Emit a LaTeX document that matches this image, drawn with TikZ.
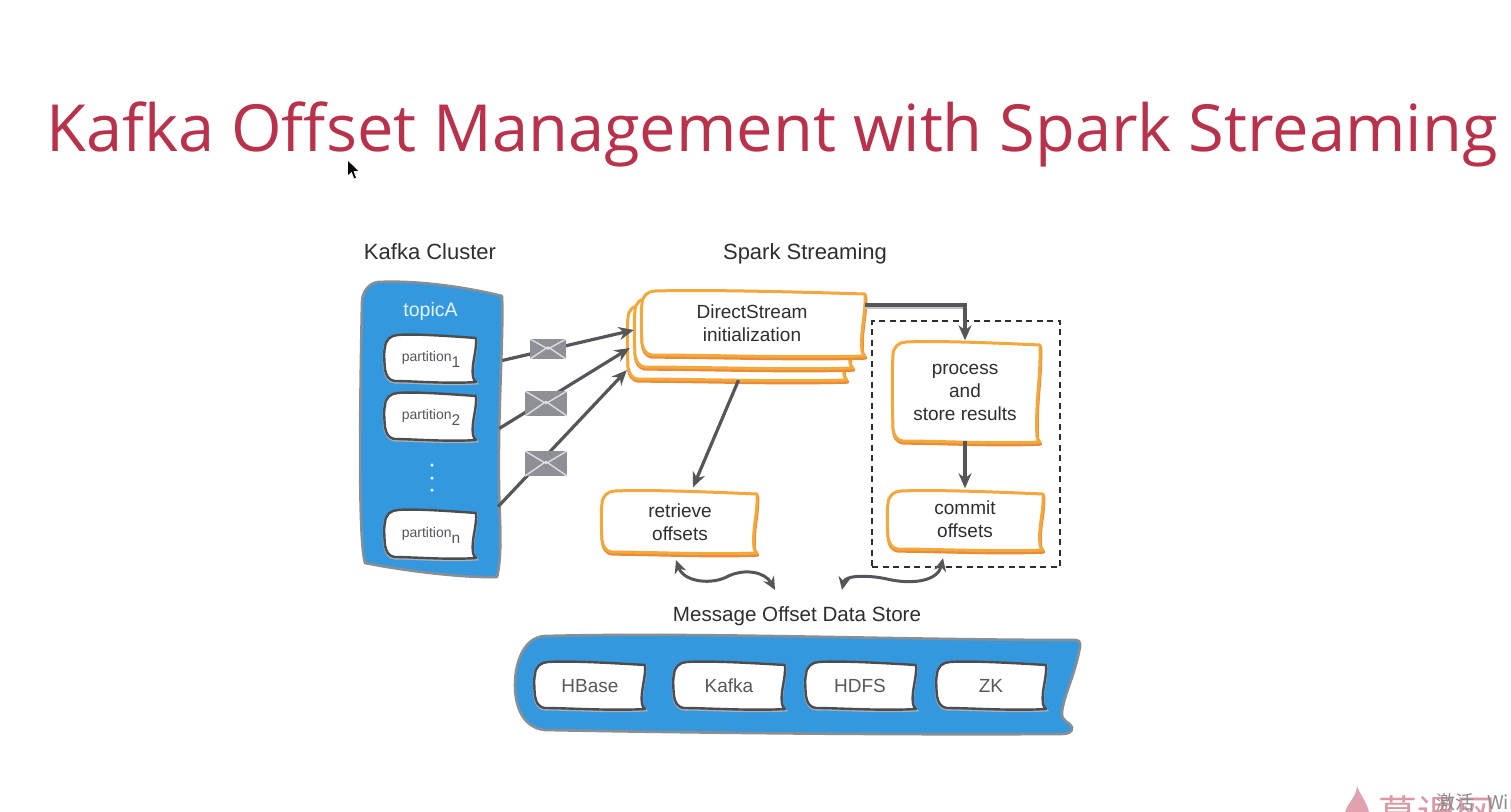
\documentclass[tikz,border=0pt]{standalone}
\usepackage{fontspec}
\setmainfont{Liberation Sans}
\newfontfamily\titlefont{Open Sans}
\newfontfamily\cjkfont{Noto Sans CJK SC}
\usetikzlibrary{arrows.meta,calc}
\definecolor{titlered}{HTML}{B9314A}
\definecolor{kblue}{HTML}{3498DF}
\definecolor{kedge}{HTML}{868E96}
\definecolor{korange}{HTML}{F2A83C}
\definecolor{kshade}{HTML}{EC8A35}
\definecolor{kgray}{HTML}{55565A}
\definecolor{kenv}{HTML}{8F9095}
\definecolor{kink}{HTML}{2E2E30}
\tikzset{
  caption/.style={text=kink,anchor=base,font=\fontsize{22}{26}\selectfont,inner sep=0pt},
  flow/.style={draw=kgray,line width=3.2pt,-{Stealth[length=15pt,width=13pt]}},
  wave/.style={draw=kgray,line width=3pt,{Stealth[length=13pt,width=12pt]}-{Stealth[length=13pt,width=12pt]}},
  edgeshade/.style={draw=kgray!35,line width=3pt},
  orangebox/.style={fill=white,draw=korange,line width=3pt,line join=round},
  orangeshade/.style={draw=kshade,line width=3.4pt,line join=round},
  whitebox/.style={fill=white,draw=kink!85,line width=2.4pt,line join=round},
  graybase/.style={draw=kedge!70,line width=3pt},
  bluepanel/.style={fill=kblue,draw=kedge,line width=2.6pt,line join=round},
  boxtext/.style={inner sep=0pt,align=center,text=kink,font=\fontsize{19}{23}\selectfont},
  stacktext/.style={boxtext},
  storetext/.style={boxtext,text=kink!80,font=\fontsize{19}{22}\selectfont},
  parttext/.style={inner sep=0pt,align=center,text=kgray,font=\fontsize{14}{17}\selectfont},
  envelope/.style={fill=kenv,inner sep=0pt,path picture={
    \draw[white!70!kenv,line width=1.4pt]
      (path picture bounding box.north west)--(path picture bounding box.center)--(path picture bounding box.north east)
      (path picture bounding box.south west)--([yshift=2pt]path picture bounding box.center)--(path picture bounding box.south east);}},
  dashbox/.style={draw=kink,line width=1.3pt,dash pattern=on 6pt off 4.5pt,inner sep=0pt},
}
% wobbly outline: left top right bottom
\newcommand{\wobpath}[4]{
  ({#1+13},{#2}) .. controls ({#1+(#3-#1)*0.3},{#2-1.5}) and ({#1+(#3-#1)*0.7},{#2+1}) .. ({#3},{#2+3})
  .. controls ({#3+1},{#2+(#4-#2)*0.35}) and ({#3-5},{#2+(#4-#2)*0.6}) .. ({#3-3},{#4-6})
  .. controls ({#3-3},{#4-4}) and ({#3-1},{#4-2}) .. ({#3},{#4-1})
  .. controls ({#1+(#3-#1)*0.7},{#4+1}) and ({#1+(#3-#1)*0.3},{#4-2}) .. ({#1+10},{#4-2})
  .. controls ({#1+3},{#4-3}) and ({#1+1},{#4-8}) .. ({#1},{#4-14})
  .. controls ({#1-1},{#2+(#4-#2)*0.5}) and ({#1-1},{#2+(#4-#2)*0.3}) .. ({#1},{#2+13})
  .. controls ({#1},{#2+5}) and ({#1+6},{#2}) .. ({#1+13},{#2}) -- cycle
}
\newcommand{\orangewob}[4]{
  \draw[orangeshade,xshift=0.5pt,yshift=-2pt] \wobpath{#1}{#2}{#3}{#4};
  \path[orangebox] \wobpath{#1}{#2}{#3}{#4};
}
\newcommand{\whitewob}[4]{
  \draw[graybase,yshift=-1pt] \wobpath{#1}{#2}{#3}{#4};
  \path[whitebox] \wobpath{#1}{#2}{#3}{#4};
}
\begin{document}
\begin{tikzpicture}[x=1pt,y=-1pt]
\useasboundingbox (0,0) rectangle (1511,811);
\fill[white] (0,0) rectangle (1511,811);

% title
\node[inner sep=0pt,text=titlered,font=\titlefont\fontsize{65}{72}\selectfont] (title) at (772,134) {Kafka Offset Management with Spark Streaming};

% mouse pointer
\draw[fill=black,draw=white,line width=0.6pt,line join=round]
  (347.5,160) -- (347.5,176) -- (351.5,172.5) -- (354,179) -- (356.5,178) -- (354,171.5) -- (359,171) -- cycle;

% captions
\node[caption] (kc) at (430,259) {Kafka Cluster};
\node[caption] (ss) at (805,259) {Spark Streaming};
\node[caption,font=\fontsize{20.6}{24}\selectfont] (ms) at (797,621) {Message Offset Data Store};

% Kafka cluster panel
\path[bluepanel] (378,282) .. controls (420,280) and (470,288) .. (502,296)
  .. controls (504,340) and (496,430) .. (500,520)
  .. controls (501,545) and (500,565) .. (497,577)
  .. controls (460,578) and (400,570) .. (365,563)
  .. controls (358,540) and (360,400) .. (362,302)
  .. controls (362,292) and (369,283) .. (378,282) -- cycle;
\node[inner sep=0pt,text=white!88!kblue,font=\fontsize{19.5}{22}\selectfont] (topic) at (430.5,311) {topicA};
\whitewob{385}{335}{476}{383}
\node[parttext,minimum width=91pt,minimum height=47pt] (p1) at (430.5,358.5) {};
\node[parttext] (p1t) at (431,359) {partition\raisebox{-6pt}{\fontsize{15.5}{16}\selectfont 1}};
\whitewob{385}{393}{476}{441}
\node[parttext,minimum width=91pt,minimum height=47pt] (p2) at (430.5,416.5) {};
\node[parttext] (p2t) at (431,417) {partition\raisebox{-6pt}{\fontsize{15.5}{16}\selectfont 2}};
\whitewob{385}{510}{476}{559}
\node[parttext,minimum width=91pt,minimum height=47pt] (pn) at (430.5,534.5) {};
\node[parttext] (pnt) at (431,535) {partition\raisebox{-6pt}{\fontsize{15.5}{16}\selectfont n}};
\foreach \n/\yy in {d1/465,d2/478,d3/490}
  \node[circle,fill=white!88!kblue,inner sep=0pt,minimum size=3.5pt] (\n) at (432,\yy) {};

% DirectStream stack
\orangewob{628}{305}{847}{381}
\orangewob{635}{298}{853}{369}
\node[inner sep=0pt,minimum width=219pt,minimum height=76pt] (ds3) at (737.5,343) {};
\orangewob{642}{291}{865}{357}
\node[stacktext,minimum width=223pt,minimum height=66pt] (ds) at (753.5,324) {};
\node[stacktext] (dst) at (752,323) {DirectStream\\initialization};

% step boxes
\orangewob{893}{342}{1040}{443}
\node[boxtext,minimum width=147pt,minimum height=101pt] (proc) at (965,392) {process\\and\\store results};
\orangewob{602}{491}{757}{554}
\node[boxtext,minimum width=155pt,minimum height=63pt] (retr) at (680,522) {retrieve\\offsets};
\orangewob{888}{491}{1043}{551}
\node[boxtext,minimum width=155pt,minimum height=60pt] (comm) at (965,519.5) {commit\\offsets};

% dashed group
\node[dashbox,minimum width=188pt,minimum height=246pt] (grp) at (966,444) {};

% data store panel
\path[bluepanel] (545,636) .. controls (700,632) and (900,640) .. (1076,640)
  .. controls (1081,640) and (1081,646) .. (1079,652)
  .. controls (1073,680) and (1064,695) .. (1062,712)
  .. controls (1061,722) and (1070,722) .. (1072,727)
  .. controls (1073,732) and (1068,734) .. (1062,734)
  .. controls (900,735) and (700,733) .. (545,730)
  .. controls (525,728) and (515,710) .. (515,685)
  .. controls (515,660) and (525,637) .. (545,636) -- cycle;
\whitewob{535}{662}{645}{710}
\node[storetext,minimum width=110pt,minimum height=48pt] (hb) at (590,686) {HBase};
\whitewob{674}{662}{785}{710}
\node[storetext,minimum width=111pt,minimum height=48pt] (kf) at (729,686) {Kafka};
\whitewob{806}{662}{916}{710}
\node[storetext,minimum width=110pt,minimum height=48pt] (hd) at (860,686) {HDFS};
\whitewob{937}{662}{1046}{710}
\node[storetext,minimum width=109pt,minimum height=48pt] (zk) at (991,686) {ZK};

% connectors
\draw[flow] ([xshift=26pt,yshift=-2pt]p1.east) -- ($(ds.west)+(-8,6)$);
\draw[flow] ([xshift=23pt,yshift=-12pt]p2.east) -- ($(ds.west)+(-12,24)$);
\draw[flow] ([xshift=22pt,yshift=28pt]pn.east) -- ($(ds3.south west)+(-1,-11)$);
\draw[edgeshade] ([yshift=17pt]ds.east) -- ++(98,0);
\draw[flow] ([yshift=19pt]ds.east) -| ([yshift=1pt]proc.north);
\draw[flow] ($(ds3.south)+(1,-1)$) -- ($(retr.north)+(13,-3)$);
\draw[flow] ([yshift=2pt]proc.south) -- ([yshift=1pt]comm.north);
\draw[wave] ($(retr.south)+(-4,6.5)$) .. controls +(8,22) and +(-16,9) .. ($(retr.south)+(48,22.5)$)
   .. controls +(17,-8) and +(-10,-18) .. ($(ms.north)+(-22,-16)$);
\draw[wave] ($(ms.north)+(45,-16)$) .. controls +(3,-15) and +(-20,-5) .. ($(comm.south)+(-75,30)$)
   .. controls +(25,5) and +(-5,22) .. ($(comm.south)+(-22,8.5)$);

% envelopes on the connectors
\node[envelope,minimum width=36pt,minimum height=20pt] (e1) at (548,349) {};
\node[envelope,minimum width=42pt,minimum height=25pt] (e2) at (546,403.5) {};
\node[envelope,minimum width=42pt,minimum height=25pt] (e3) at (546,463.5) {};

% watermark
\begin{scope}
\clip (0,0) rectangle (1511,811);
\fill[titlered!45] (1357,786) .. controls (1360,795) and (1366,800) .. (1369,812) -- (1345,812) .. controls (1348,802) and (1356,798) .. (1357,786) -- cycle;
\node[inner sep=0pt,anchor=west,text=titlered!50,font=\cjkfont\fontsize{39}{42}\selectfont] (wm) at (1378,814) {慕课网};
\node[inner sep=0pt,anchor=west,text=black!45,font=\cjkfont\fontsize{19}{22}\selectfont] (wa) at (1436,802) {激活\hspace{13pt}Win};
\end{scope}
\end{tikzpicture}
\end{document}
